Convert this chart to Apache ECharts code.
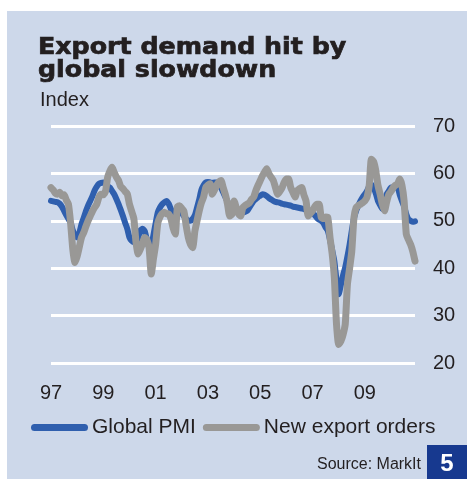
<!DOCTYPE html>
<html>
<head>
<meta charset="utf-8">
<script src="https://cdn.jsdelivr.net/npm/echarts@6/dist/echarts.min.js"></script>
<style>
  html, body { margin: 0; padding: 0; background: #ffffff; }
  #chart { width: 467px; height: 479px; }
</style>
</head>
<body>
<div id="chart"></div>
<script>
// Monthly readings, Jan 1997 – Dec 2010
const startYear = 1997;
const monthCount = 168;

const seriesNames = ['Global PMI', 'New export orders'];

const pmi = [
  54.2, 54.1, 54.0, 53.9, 53.6, 53.0, 52.1, 51.2, 50.4, 49.6, 48.0, 46.8,
  46.5, 47.5, 49.3, 50.6, 52.0, 53.2, 54.2, 55.2, 56.4, 57.2, 57.8, 58.0,
  58.1, 57.8, 57.3, 57.0, 56.3, 55.6, 54.6, 53.5, 52.3, 51.0, 49.6, 48.3,
  46.5, 45.8, 45.5, 45.5, 46.5, 48.0, 48.3, 47.8, 46.0, 44.5, 44.8, 47.0,
  49.5, 51.8, 52.8, 53.5, 53.9, 54.2, 53.6, 52.5, 51.5, 50.5, 51.5, 52.0,
  51.6, 51.0, 50.4, 50.0, 50.0, 50.4, 51.2, 52.8, 54.5, 56.5, 57.5, 58.1,
  58.2, 58.1, 58.0, 58.1, 58.1, 57.5, 57.0, 56.0, 55.0, 54.0, 52.8, 52.4,
  52.1, 52.0, 51.9, 51.8, 51.8, 51.9, 52.1, 52.8, 53.5, 54.2, 54.6, 55.0,
  55.3, 55.6, 55.5, 55.2, 54.8, 54.5, 54.2, 54.0, 53.9, 53.8, 53.6, 53.5,
  53.4, 53.3, 53.2, 53.0, 52.9, 52.8, 52.7, 52.6, 52.5, 52.3, 52.1, 51.8,
  51.6, 51.2, 50.6, 50.2, 50.0, 49.5, 48.6, 47.9, 46.0, 43.8, 41.5, 37.5,
  34.5, 36.5, 38.5, 40.2, 42.5, 45.0, 47.9, 50.5, 52.1, 53.2, 54.2, 55.0,
  55.6, 56.3, 57.3, 57.6, 57.0, 55.8, 54.2, 53.3, 52.5, 53.5, 55.6, 56.3,
  57.0, 57.0, 57.0, 57.0, 55.5, 54.2, 53.0, 51.4, 50.3, 50.0, 49.8, 49.9
];

const exportOrders = [
  57.0, 56.5, 55.8, 55.6, 56.0, 55.3, 55.5, 54.4, 53.5, 49.5, 44.0, 41.2,
  42.5, 44.5, 46.5, 47.5, 48.8, 50.0, 51.0, 52.0, 52.8, 53.5, 55.0, 55.6,
  55.5, 56.2, 59.2, 60.5, 61.3, 60.2, 59.2, 58.5, 57.2, 56.8, 56.2, 55.7,
  53.5, 52.0, 50.5, 45.5, 43.0, 44.0, 45.2, 46.5, 46.0, 44.3, 38.8, 42.0,
  45.0, 49.5, 50.8, 51.5, 51.8, 51.5, 51.4, 50.5, 48.5, 47.2, 53.0, 53.2,
  52.6, 52.0, 49.0, 46.5, 45.0, 44.3, 47.8, 50.0, 52.1, 53.8, 55.0, 57.0,
  57.5, 57.8, 55.6, 56.5, 57.5, 58.2, 58.5, 57.0, 55.5, 53.5, 51.0, 51.4,
  54.2, 52.8, 51.5, 51.0, 52.8, 53.2, 53.5, 53.8, 54.5, 55.0, 56.4, 57.5,
  58.5, 59.5, 60.3, 61.0, 59.9, 59.2, 58.5, 57.0, 55.6, 56.2, 57.0, 58.1,
  58.8, 58.8, 57.0, 56.0, 55.0, 56.4, 56.8, 57.0, 55.5, 54.2, 51.0, 51.6,
  52.1, 53.0, 53.5, 53.5, 50.7, 50.5, 50.8, 50.7, 46.5, 43.0, 38.0, 28.1,
  23.9, 24.6, 26.0, 28.2, 36.6, 40.0, 43.6, 50.7, 52.8, 53.2, 53.5, 53.8,
  54.2, 55.0, 57.5, 63.0, 62.5, 60.6, 57.5, 55.6, 53.5, 52.1, 54.0, 55.6,
  56.2, 57.0, 57.5, 57.8, 58.8, 57.5, 54.2, 47.2, 46.0, 45.0, 43.5, 41.5
];

const yTicks = [20, 30, 40, 50, 60, 70];

// Category labels: one per month
const months = [];
for (let i = 0; i < monthCount; i++) {
  const y = startYear + Math.floor(i / 12);
  const m = (i % 12) + 1;
  months.push(y + '-' + (m < 10 ? '0' + m : m));
}

const textColor = '#231f20';
const panelColor = '#cdd8ea';
const pmiColor = '#2f5fae';
const exportColor = '#999896';
const sans = '"Liberation Sans", Arial, sans-serif';
const heavy = '"DejaVu Sans", sans-serif';

const chart = echarts.init(document.getElementById('chart'), null, { renderer: 'canvas' });

const capsule = 'path://M3.5,0 H53.5 A3.5,3.5 0 0 1 53.5,7 H3.5 A3.5,3.5 0 0 1 3.5,0 Z';

// Heavy headline text: bold face with a thin outline for extra weight
const headline = (text, y) => ({
  type: 'text', x: 38, y: y, scaleX: 1.1, silent: true,
  style: {
    text: text, font: 'bold 23px ' + heavy, fill: textColor,
    stroke: textColor, lineWidth: 0.7, verticalAlign: 'middle'
  }
});

chart.setOption({
  backgroundColor: '#ffffff',
  animation: false,
  grid: { left: 51, right: 52, top: 126, bottom: 116, containLabel: false },
  xAxis: {
    type: 'category',
    data: months,
    boundaryGap: false,
    axisLine: { show: false },
    axisTick: { show: false },
    splitLine: { show: false },
    axisLabel: {
      interval: (idx) => idx % 24 === 0,
      formatter: (v) => v.slice(2, 4),
      margin: 20,
      fontFamily: sans,
      fontSize: 20,
      color: textColor
    }
  },
  yAxis: {
    type: 'value',
    position: 'right',
    min: yTicks[0],
    max: yTicks[yTicks.length - 1],
    interval: 10,
    axisLine: { show: false },
    axisTick: { show: false },
    axisLabel: {
      margin: 18,
      fontFamily: sans,
      fontSize: 20,
      color: textColor
    },
    splitLine: { show: true, lineStyle: { color: '#ffffff', width: 3 } }
  },
  legend: {
    left: 31,
    top: 417,
    padding: 0,
    itemGap: 7,
    itemWidth: 57,
    itemHeight: 7,
    icon: capsule,
    textStyle: { fontFamily: sans, fontSize: 21, color: textColor, padding: [0, 0, 0, -1] },
    data: seriesNames
  },
  series: [
    {
      name: seriesNames[0],
      type: 'line',
      data: pmi,
      showSymbol: false,
      smooth: 0.2,
      color: pmiColor,
      lineStyle: { color: pmiColor, width: 6, cap: 'round', join: 'round' },
      z: 2
    },
    {
      name: seriesNames[1],
      type: 'line',
      data: exportOrders,
      showSymbol: false,
      smooth: 0.2,
      color: exportColor,
      lineStyle: { color: exportColor, width: 7, cap: 'round', join: 'round' },
      z: 3
    }
  ],
  graphic: [
    {
      type: 'rect', z: -100, silent: true,
      shape: { x: 7, y: 11, width: 460, height: 468 },
      style: { fill: panelColor }
    },
    headline('Export demand hit by', 48),
    headline('global slowdown', 71),
    {
      type: 'text', x: 40, y: 100, silent: true,
      style: { text: 'Index', font: '20px ' + sans, fill: textColor, verticalAlign: 'middle' }
    },
    {
      type: 'text', x: 421, y: 465, silent: true,
      style: { text: 'Source: MarkIt', font: '16px ' + sans, fill: textColor, align: 'right', verticalAlign: 'middle' }
    },
    {
      type: 'rect', silent: true,
      shape: { x: 427, y: 445, width: 40, height: 34 },
      style: { fill: '#17398f' }
    },
    {
      type: 'text', x: 447, y: 464, silent: true,
      style: { text: '5', font: 'bold 24px ' + sans, fill: '#ffffff', align: 'center', verticalAlign: 'middle' }
    }
  ]
});
</script>
</body>
</html>
